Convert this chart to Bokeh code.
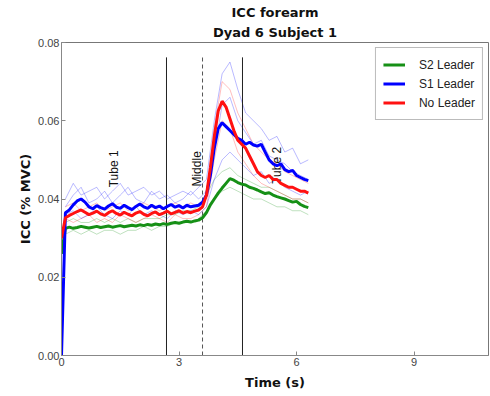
from bokeh.plotting import figure
from bokeh.models import Range1d, FixedTicker, PrintfTickFormatter, Title, Legend, LegendItem
from bokeh.core.properties import value
from bokeh.embed import file_html
from bokeh.resources import INLINE
import math

# ---- data ----
t_main = [0.0, 0.1, 0.2, 0.3, 0.4, 0.5, 0.6, 0.7, 0.8, 0.9, 1.0,
          1.1, 1.2, 1.3, 1.4, 1.5, 1.6, 1.7, 1.8, 1.9, 2.0,
          2.1, 2.2, 2.3, 2.4, 2.5, 2.6, 2.7, 2.8, 2.9, 3.0,
          3.1, 3.2, 3.3, 3.4, 3.5, 3.6, 3.7, 3.8, 3.9, 4.0,
          4.1, 4.2, 4.3, 4.4, 4.5, 4.6, 4.7, 4.8, 4.9, 5.0,
          5.1, 5.2, 5.3, 5.4, 5.5, 5.6, 5.7, 5.8, 5.9, 6.0,
          6.1, 6.2, 6.3]

s2_leader = [0.0260,
             0.0325, 0.0328, 0.0325, 0.0327, 0.0330, 0.0328, 0.0326, 0.0328, 0.0330, 0.0327,
             0.0329, 0.0331, 0.0328, 0.0330, 0.0332, 0.0329, 0.0331, 0.0333, 0.0331, 0.0334,
             0.0332, 0.0335, 0.0333, 0.0336, 0.0334, 0.0337, 0.0335, 0.0338, 0.0340, 0.0338,
             0.0341, 0.0343, 0.0341, 0.0344, 0.0346, 0.0352, 0.0365, 0.0385, 0.0400, 0.0415,
             0.0428, 0.0440, 0.0452, 0.0448, 0.0442, 0.0438, 0.0436, 0.0430, 0.0427, 0.0423,
             0.0418, 0.0414, 0.0416, 0.0410, 0.0406, 0.0403, 0.0400, 0.0396, 0.0392, 0.0394,
             0.0386, 0.0381, 0.0378]

s1_leader = [0.0000,
             0.0365, 0.0372, 0.0385, 0.0395, 0.0400, 0.0392, 0.0380, 0.0375, 0.0383, 0.0378,
             0.0374, 0.0382, 0.0388, 0.0379, 0.0376, 0.0384, 0.0378, 0.0373, 0.0381, 0.0387,
             0.0380, 0.0376, 0.0384, 0.0378, 0.0382, 0.0375, 0.0381, 0.0386, 0.0379, 0.0383,
             0.0377, 0.0384, 0.0380, 0.0382, 0.0384, 0.0392, 0.0410, 0.0460, 0.0530, 0.0580,
             0.0595, 0.0585, 0.0575, 0.0565, 0.0555, 0.0550, 0.0540, 0.0545, 0.0538, 0.0535,
             0.0540, 0.0520, 0.0500, 0.0490, 0.0485, 0.0490, 0.0475, 0.0470, 0.0473, 0.0460,
             0.0455, 0.0450, 0.0447]

no_leader = [0.0300,
             0.0352, 0.0358, 0.0363, 0.0368, 0.0372, 0.0366, 0.0360, 0.0364, 0.0369, 0.0362,
             0.0358, 0.0365, 0.0370, 0.0363, 0.0359, 0.0366, 0.0361, 0.0357, 0.0364, 0.0368,
             0.0361, 0.0357, 0.0363, 0.0367, 0.0360, 0.0364, 0.0369, 0.0362, 0.0366, 0.0370,
             0.0364, 0.0368, 0.0365, 0.0369, 0.0372, 0.0380, 0.0410, 0.0480, 0.0560, 0.0625,
             0.0650, 0.0635, 0.0605, 0.0575, 0.0550, 0.0540, 0.0530, 0.0510, 0.0490, 0.0470,
             0.0460, 0.0455, 0.0460, 0.0450, 0.0450, 0.0440, 0.0435, 0.0430, 0.0430, 0.0425,
             0.0420, 0.0420, 0.0415]

t_trial = [0.1, 0.3, 0.5, 0.7, 0.9, 1.1, 1.3, 1.5, 1.7, 1.9, 2.1, 2.3, 2.5, 2.7, 2.9, 3.1,
           3.3, 3.5, 3.7, 3.9, 4.1, 4.3, 4.5, 4.7, 4.9, 5.1, 5.3, 5.5, 5.7, 5.9, 6.1, 6.3]

s1_trial_a = [0.040, 0.044, 0.041, 0.042, 0.043, 0.040, 0.042, 0.044, 0.041, 0.042, 0.043, 0.041, 0.042, 0.040, 0.041, 0.042,
              0.041, 0.043, 0.045, 0.060, 0.072, 0.075, 0.068, 0.062, 0.060, 0.058, 0.055, 0.056, 0.052, 0.053, 0.049, 0.050]
s1_trial_b = [0.036, 0.037, 0.035, 0.036, 0.038, 0.036, 0.035, 0.037, 0.036, 0.038, 0.036, 0.037, 0.036, 0.035, 0.037, 0.036,
              0.037, 0.036, 0.038, 0.045, 0.050, 0.052, 0.050, 0.048, 0.046, 0.047, 0.044, 0.045, 0.043, 0.042, 0.041, 0.042]
s1_trial_c = [0.038, 0.041, 0.043, 0.039, 0.040, 0.042, 0.039, 0.041, 0.043, 0.040, 0.039, 0.042, 0.040, 0.041, 0.039, 0.040,
              0.042, 0.040, 0.042, 0.052, 0.064, 0.066, 0.060, 0.057, 0.054, 0.055, 0.051, 0.050, 0.049, 0.047, 0.046, 0.045]
nl_trial_a = [0.038, 0.039, 0.037, 0.038, 0.039, 0.037, 0.038, 0.039, 0.037, 0.038, 0.039, 0.038, 0.037, 0.038, 0.039, 0.038,
              0.039, 0.038, 0.041, 0.058, 0.070, 0.068, 0.062, 0.058, 0.054, 0.052, 0.050, 0.049, 0.047, 0.046, 0.045, 0.044]
nl_trial_b = [0.035, 0.034, 0.035, 0.036, 0.034, 0.035, 0.034, 0.036, 0.035, 0.034, 0.035, 0.036, 0.035, 0.034, 0.036, 0.035,
              0.035, 0.036, 0.038, 0.050, 0.060, 0.058, 0.052, 0.049, 0.046, 0.044, 0.043, 0.042, 0.041, 0.040, 0.040, 0.039]
s2_trial_a = [0.034, 0.035, 0.034, 0.034, 0.035, 0.034, 0.035, 0.034, 0.035, 0.034, 0.035, 0.035, 0.035, 0.036, 0.036, 0.037,
              0.037, 0.038, 0.041, 0.045, 0.047, 0.048, 0.046, 0.045, 0.044, 0.043, 0.043, 0.042, 0.041, 0.040, 0.040, 0.039]
s2_trial_b = [0.031, 0.032, 0.031, 0.032, 0.031, 0.032, 0.032, 0.031, 0.032, 0.032, 0.033, 0.032, 0.033, 0.033, 0.034, 0.034,
              0.034, 0.035, 0.037, 0.040, 0.042, 0.043, 0.042, 0.041, 0.040, 0.040, 0.039, 0.038, 0.038, 0.037, 0.037, 0.036]

phase_solid = [2.68, 4.62]
phase_dashed = [3.6]
phase_top = 0.0762
phase_labels = ["Tube 1", "Middle", "Tube 2"]
phase_label_x = [1.33, 3.47, 5.51]
phase_label_y = [0.0477, 0.0477, 0.0486]

x_ticks = [0, 3, 6, 9]
y_ticks = [0.0, 0.02, 0.04, 0.06, 0.08]

GREEN = "#169016"
BLUE = "#0000ff"
RED = "#ff1111"

# ---- figure ----
p = figure(width=490, height=396, output_backend="svg", toolbar_location=None,
           x_range=Range1d(0, 10.9), y_range=Range1d(0, 0.08),
           min_border_left=61, min_border_right=2, min_border_bottom=10, min_border_top=42)
p.frame_width = 427
p.frame_height = 313

p.title.text = "ICC forearm"
p.title.align = "center"
p.title.text_font = "DejaVu Sans"
p.title.text_font_size = "13px"
p.title.text_font_style = "bold"
p.title.standoff = 0
p.title.offset = 0
p.title.text_color = "#111111"
p.add_layout(Title(text="Dyad 6 Subject 1", align="center", text_font="DejaVu Sans", text_color="#111111",
                   text_font_size="13px", text_font_style="bold", standoff=6, offset=0), "above")

p.xgrid.visible = False
p.ygrid.visible = False
p.outline_line_color = "#777777"
p.outline_line_width = 1

for ax in (p.xaxis[0], p.yaxis[0]):
    ax.axis_line_color = "#888888"
    ax.major_tick_line_color = "#888888"
    ax.major_tick_in = 4
    ax.major_tick_out = 0
    ax.minor_tick_line_color = None
    ax.major_label_text_font = "Liberation Sans"
    ax.major_label_text_font_size = "11px"
    ax.major_label_text_color = "#444444"
    ax.axis_label_text_font = "DejaVu Sans"
    ax.axis_label_text_font_size = "13px"
    ax.axis_label_text_font_style = "bold"
    ax.axis_label_text_color = "#111111"

p.xaxis.ticker = FixedTicker(ticks=x_ticks)
p.yaxis.ticker = FixedTicker(ticks=y_ticks)
p.yaxis.formatter = PrintfTickFormatter(format="%.2f")
p.xaxis.axis_label = "Time (s)"
p.yaxis.axis_label = "ICC (% MVC)"
p.xaxis.major_label_standoff = 2
p.yaxis.major_label_standoff = 2
p.xaxis.axis_label_standoff = 6
p.yaxis.axis_label_standoff = 2

# thin single-trial traces
for ys, c in [(s2_trial_a, GREEN), (s2_trial_b, GREEN),
              (nl_trial_a, RED), (nl_trial_b, RED),
              (s1_trial_a, BLUE), (s1_trial_b, BLUE), (s1_trial_c, BLUE)]:
    p.line(t_trial, ys, line_color=c, line_width=0.8, line_alpha=0.35)

# phase markers
p.segment(x0=phase_solid, y0=[0, 0], x1=phase_solid, y1=[phase_top, phase_top],
          line_color="#222222", line_width=1)
p.segment(x0=phase_dashed, y0=[0], x1=phase_dashed, y1=[phase_top],
          line_color="#555555", line_width=1, line_dash="4 3")
p.text(x=phase_label_x, y=phase_label_y, text=phase_labels, angle=math.pi / 2,
       text_align="center", text_baseline="middle", text_font=value("Liberation Sans"),
       text_font_size="12px", text_color="#111111")

# mean traces
r_g = p.line(t_main, s2_leader, line_color=GREEN, line_width=3)
r_b = p.line(t_main, s1_leader, line_color=BLUE, line_width=3)
r_r = p.line(t_main, no_leader, line_color=RED, line_width=3)

legend = Legend(items=[LegendItem(label="S2 Leader", renderers=[r_g]),
                       LegendItem(label="S1 Leader", renderers=[r_b]),
                       LegendItem(label="No Leader", renderers=[r_r])],
                location="top_right")
legend.label_text_font = "Liberation Sans"
legend.label_text_font_size = "12px"
legend.label_text_color = "#222222"
legend.border_line_color = "#777777"
legend.margin = 5
legend.padding = 7
legend.spacing = 0
legend.glyph_width = 22
legend.glyph_height = 19
legend.label_height = 19
legend.label_standoff = 14
legend.background_fill_alpha = 1
p.add_layout(legend, "center")

open("out.html", "w").write(file_html(p, INLINE))
